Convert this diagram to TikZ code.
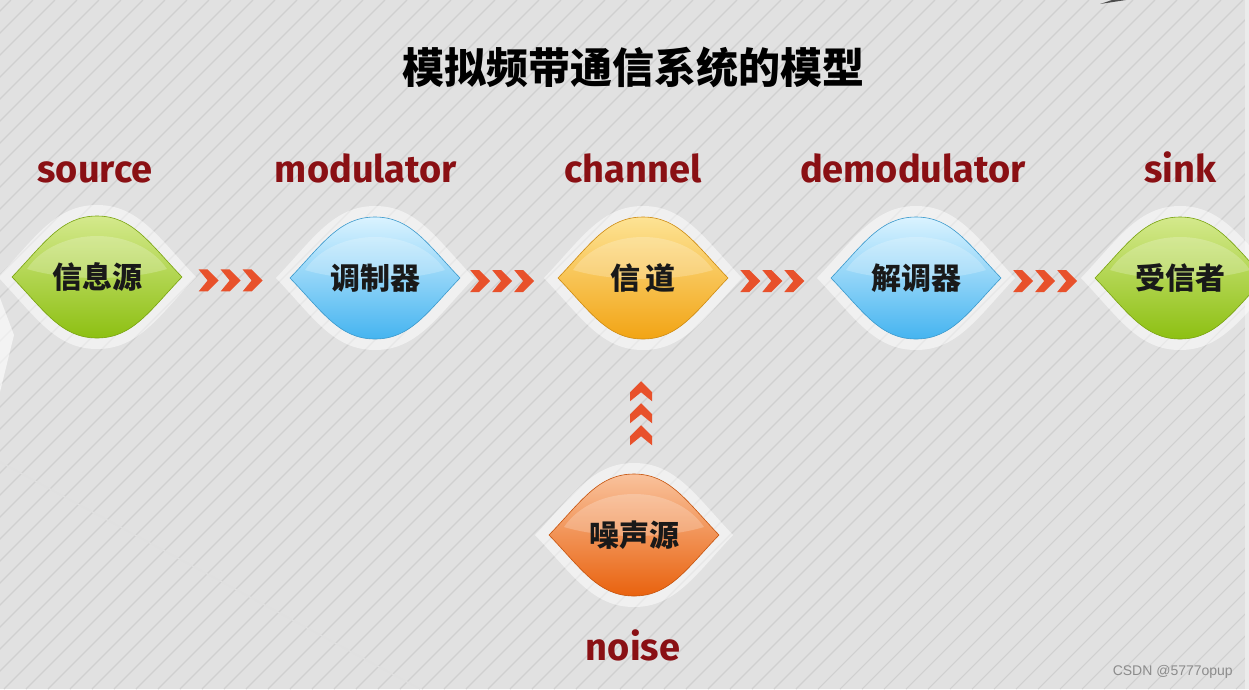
\documentclass[tikz,border=0pt]{standalone}
\usepackage{fontspec}
\setmainfont{Fira Sans}
\newfontfamily\cjk{Noto Sans CJK SC}
\newfontfamily\wmfont{Liberation Sans}
\usetikzlibrary{calc}
\definecolor{bg}{HTML}{E1E1E1}
\definecolor{stripe}{HTML}{D0D0D0}
\definecolor{lbl}{HTML}{8A1014}
\definecolor{chev}{HTML}{E8512B}
\definecolor{gtop}{HTML}{D4E98C}
\definecolor{gbot}{HTML}{8DC012}
\definecolor{btop}{HTML}{DAF3FF}
\definecolor{bbot}{HTML}{45B4F0}
\definecolor{ytop}{HTML}{FDE394}
\definecolor{ybot}{HTML}{F2A414}
\definecolor{otop}{HTML}{F9C29C}
\definecolor{obot}{HTML}{E9620E}
\tikzset{
  lbltext/.style={text=lbl,font=\bfseries\fontsize{38}{40}\selectfont,inner sep=0pt,anchor=base},
  lenstext/.style={font=\cjk\bfseries\fontsize{30}{32}\selectfont,inner sep=0pt,text=black!90},
  chevshape/.style={fill=chev},
}
% lens path: half width #1, half height #2
\newcommand\lenspath[2]{(-#1,0) .. controls (-0.62*#1,-0.55*#2) and (-0.42*#1,-#2) .. (0,-#2) .. controls (0.42*#1,-#2) and (0.62*#1,-0.55*#2) .. (#1,0) .. controls (0.62*#1,0.55*#2) and (0.42*#1,#2) .. (0,#2) .. controls (-0.42*#1,#2) and (-0.62*#1,0.55*#2) .. (-#1,0) -- cycle}
% #1 name, #2 x, #3 y, #4 top colour, #5 bottom colour, #6 text
\newcommand\lensnode[6]{%
  \begin{scope}[shift={(#2,#3)}]
    \fill[white,opacity=0.5] \lenspath{99}{72};
    \shade[top color=#4,bottom color=#5,draw=#5!85!black,line width=0.6pt] \lenspath{85}{61};
    \fill[white,opacity=0.22] (-70,-8) .. controls (-40,-52) and (40,-52) .. (70,-8) .. controls (30,4) and (-30,4) .. (-70,-8) -- cycle;
    \coordinate (#1-w) at (-85,0);
    \coordinate (#1-e) at (85,0);
    \coordinate (#1-n) at (0,-61);
    \coordinate (#1-s) at (0,61);
  \end{scope}
  \node[lenstext] (#1) at (#2,#3) {#6};
}
% three chevrons centred at #1, rotated by #2
\newcommand\chevrons[2]{%
  \foreach \k in {-1,0,1}{
    \fill[chevshape,shift={#1},rotate=#2,xshift=\k*22]
      (-10,-11) -- (-1,-11) -- (10,0) -- (-1,11) -- (-10,11) -- (-1,0) -- cycle;
  }
}
\begin{document}
\begin{tikzpicture}[x=1pt,y=-1pt]
\useasboundingbox (0,0) rectangle (1249,689);
\clip (0,0) rectangle (1249,689);
\fill[bg] (0,0) rectangle (1249,689);
\foreach \i in {-700,-678,...,1260}{
  \draw[stripe,line width=1.1pt] (\i,689) -- (\i+689,0);
}
\draw[black!12,line width=1.2pt] (0,462) -- (420,689);
\fill[white,opacity=0.6] (0,298) -- (14,335) -- (0,392) -- cycle;
\fill[black!70] (1100,4) -- (1126,0) -- (1112,0) -- cycle;
\fill[white!92!black] (1245,0) rectangle (1249,689);
% title
\node[font=\cjk\bfseries\fontsize{42}{44}\selectfont,inner sep=0pt] (title) at (633,67) {模拟频带通信系统的模型};
% lenses
\lensnode{src}{97}{277}{gtop}{gbot}{信息源}
\lensnode{mod}{375}{278}{btop}{bbot}{调制器}
\lensnode{chn}{643}{278}{ytop}{ybot}{信\,道}
\lensnode{dem}{916}{278}{btop}{bbot}{解调器}
\lensnode{snk}{1180}{278}{gtop}{gbot}{受信者}
\lensnode{noi}{634}{535}{otop}{obot}{噪声源}
% labels
\node[lbltext] (lsrc) at (95,182) {source};
\node[lbltext] (lmod) at (366,182) {modulator};
\node[lbltext] (lchn) at (633,182) {channel};
\node[lbltext] (ldem) at (913,182) {demodulator};
\node[lbltext] (lsnk) at (1180,182) {sink};
\node[lbltext] (lnoi) at (633,660) {noise};
% connectors
\chevrons{($(src-e)!0.45!(mod-w)+(0,3)$)}{0}
\chevrons{($(mod-e)!0.43!(chn-w)+(0,3)$)}{0}
\chevrons{($(chn-e)!0.43!(dem-w)+(0,3)$)}{0}
\chevrons{($(dem-e)!0.47!(snk-w)+(0,3)$)}{0}
\chevrons{($(noi-n)!0.45!(chn-s)+(3,0)$)}{90}
% watermark
\node[text=black!45,font=\wmfont\fontsize{14}{15}\selectfont,anchor=east,inner sep=0pt] (wm) at (1233,672) {CSDN @5777opup};
\end{tikzpicture}
\end{document}
